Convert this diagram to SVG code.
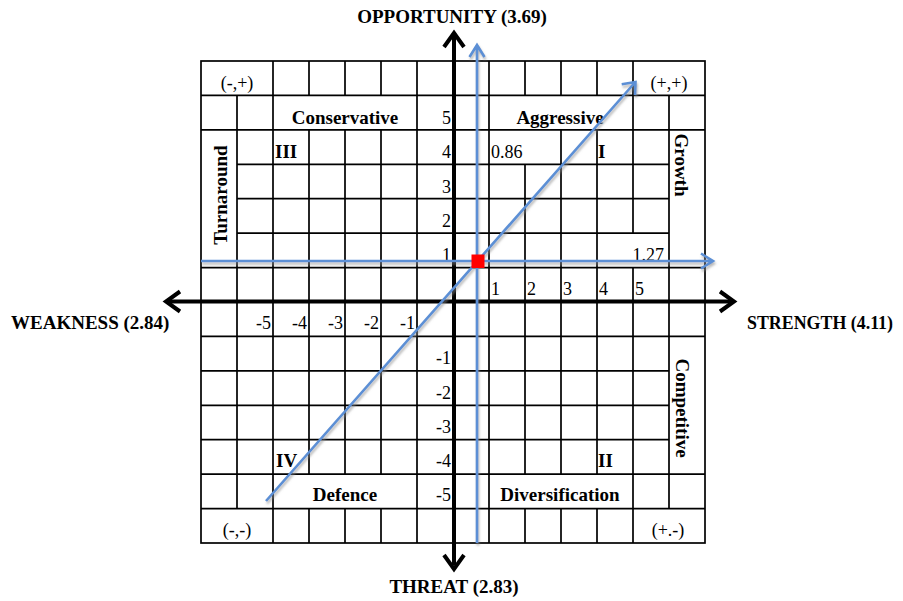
<svg xmlns="http://www.w3.org/2000/svg" width="903" height="601" viewBox="0 0 903 601">
<style>
text{font-family:"Liberation Serif","Times New Roman",serif;font-size:18px;fill:#000}
.b{font-weight:bold;font-size:19px}
.m{text-anchor:middle}
.e{text-anchor:end}
.grid{fill:none;stroke:#000;stroke-width:1.7}
.axis{fill:none;stroke:#000;stroke-width:4}
.blue{fill:none;stroke:#5B8FD5;stroke-width:2.6;stroke-linecap:butt;stroke-linejoin:miter}
</style>
<defs>
<filter id="sh" x="-10%" y="-10%" width="120%" height="120%">
<feDropShadow dx="1" dy="2.5" stdDeviation="1" flood-color="#8a8a8a" flood-opacity="0.6"/>
</filter>
</defs>
<rect width="903" height="601" fill="#fff"/>
<g id="grid">
<rect class="grid" x="201" y="61" width="504" height="482"/>
<path class="grid" d="M237 95.4V508.6 M273 61V543 M309 61V95.4 M309 129.9V474.1 M309 508.6V543 M345 61V95.4 M345 129.9V474.1 M345 508.6V543 M381 61V95.4 M381 129.9V474.1 M381 508.6V543 M417 61V543 M453 61V543 M489 61V543 M525 61V95.4 M525 164.3V474.1 M525 508.6V543 M561 61V95.4 M561 129.9V474.1 M561 508.6V543 M597 61V95.4 M597 129.9V474.1 M597 508.6V543 M633 61V233.1 M633 267.6V543 M669 95.4V508.6 M201 95.4H705 M201 129.9H705 M237 164.3H669 M237 198.7H669 M237 233.1H669 M201 267.6H705 M201 302H705 M201 336.4H705 M201 370.9H669 M201 405.3H669 M201 439.7H669 M201 474.1H705 M201 508.6H705"/>
</g>
<g id="axes">
<path class="axis" d="M168 301.5H732 M454 35V565"/>
<path class="axis" d="M180 291.5L166 301.5L180 311.5 M720 291.5L734 301.5L720 311.5 M444 47L454 33L464 47 M444 555L454 569L464 555"/>
</g>
<g id="cell-labels">
<text x="237" y="89" class="m">(-,+)</text>
<text x="669" y="89" class="m">(+,+)</text>
<text x="345" y="124" class="m b">Conservative</text>
<text x="560" y="124" class="m b">Aggressive</text>
<text x="275" y="158" class="b">III</text>
<text x="491" y="158">0.86</text>
<text x="598" y="158" class="b">I</text>
<text x="664" y="261" class="e">1.27</text>
<text x="276" y="467" class="b">IV</text>
<text x="598" y="467" class="b">II</text>
<text x="345" y="501" class="m b">Defence</text>
<text x="560" y="501" class="m b">Diversification</text>
<text x="237" y="536" class="m">(-,-)</text>
<text x="668" y="536" class="m">(+.-)</text>
<text transform="translate(227,195) rotate(-90)" class="m b">Turnaround</text>
<text transform="translate(675,165) rotate(90)" class="m b">Growth</text>
<text transform="translate(676,408) rotate(90)" class="m b">Competitive</text>
</g>
<g id="y-ticks">
<text x="451" y="124" class="e">5</text>
<text x="451" y="158" class="e">4</text>
<text x="451" y="192.5" class="e">3</text>
<text x="451" y="227" class="e">2</text>
<text x="451" y="261" class="e">1</text>
<text x="451" y="364" class="e">-1</text>
<text x="451" y="398.5" class="e">-2</text>
<text x="451" y="433" class="e">-3</text>
<text x="451" y="467" class="e">-4</text>
<text x="451" y="501" class="e">-5</text>
</g>
<g id="x-ticks">
<text x="491" y="295">1</text>
<text x="527" y="295">2</text>
<text x="563" y="295">3</text>
<text x="599" y="295">4</text>
<text x="635" y="295">5</text>
<text x="271" y="329" class="e">-5</text>
<text x="307" y="329" class="e">-4</text>
<text x="343" y="329" class="e">-3</text>
<text x="379" y="329" class="e">-2</text>
<text x="415" y="329" class="e">-1</text>
</g>
<g id="axis-titles">
<text x="452" y="23" class="m b">OPPORTUNITY (3.69)</text>
<text x="454" y="593" class="m b">THREAT (2.83)</text>
<text x="11" y="329" class="b">WEAKNESS (2.84)</text>
<text x="747" y="329" class="b" textLength="146" lengthAdjust="spacingAndGlyphs">STRENGTH (4.11)</text>
</g>
<g id="connectors" filter="url(#sh)">
<path class="blue" d="M201 261H712 M701 253.5L713 261L701 268.5"/>
<path class="blue" d="M477 543V46 M469.5 57L477 45L484.5 57"/>
<path class="blue" d="M266 501L634.5 83 M621.7 84.3L635.5 82L635 95"/>
</g>
<g id="point">
<rect x="471.5" y="254.5" width="13" height="13.5" fill="#FF0000"/>
</g>
</svg>
